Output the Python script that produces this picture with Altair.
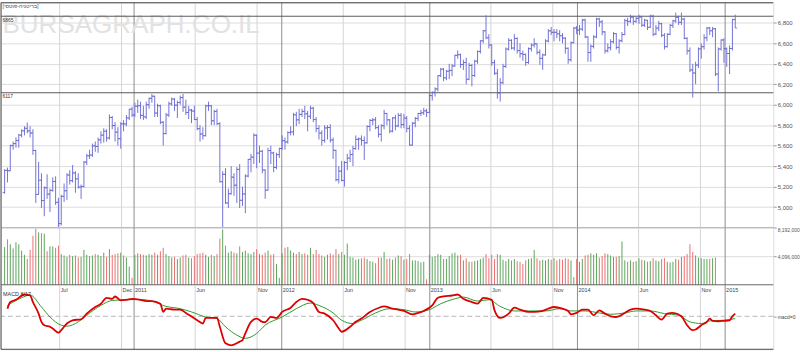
import altair as alt
import pandas as pd

TITLE = "[בריטניה-פוטסי]"
WATERMARK = "BURSAGRAPH.CO.IL"
MACD_LABEL = "MACD 8/17"
ZERO_LABEL = "macd=0"

FIRST_WEEK = "2010-02-15"
X_START = "2010-02-06"
X_END = "2015-04-30"

OPEN = [
    5142, 5358, 5355, 5600, 5620, 5650, 5703, 5745, 5770, 5744,
    5723, 5553, 5123, 5262, 5063, 5188, 5126, 5163, 5250, 5046,
    4838, 5105, 5159, 5313, 5258, 5333, 5275, 5195, 5201, 5439,
    5501, 5508, 5598, 5592, 5657, 5703, 5741, 5675, 5875, 5797,
    5732, 5668, 5813, 5812, 5871, 5957, 5900, 5985, 5990, 5896,
    5881, 6000, 6062, 6083, 5919, 5990, 5829, 5718, 5900, 6009,
    6055, 5996, 6022, 6070, 5976, 5925, 5948, 5938, 5855, 5766,
    5714, 5697, 5989, 5990, 5843, 5935, 5815, 5247, 5320, 5040,
    5130, 5292, 5214, 5368, 5066, 5128, 5303, 5466, 5488, 5702,
    5527, 5545, 5362, 5164, 5552, 5529, 5387, 5512, 5572, 5649,
    5636, 5728, 5734, 5901, 5852, 5905, 5935, 5911, 5887, 5966,
    5855, 5768, 5723, 5651, 5773, 5777, 5655, 5554, 5267, 5351,
    5260, 5435, 5478, 5513, 5571, 5662, 5666, 5651, 5627, 5787,
    5847, 5852, 5776, 5711, 5795, 5915, 5852, 5742, 5871, 5793,
    5896, 5806, 5869, 5769, 5605, 5820, 5866, 5914, 5921, 5940,
    5925, 6089, 6121, 6154, 6284, 6347, 6263, 6328, 6335, 6379,
    6483, 6489, 6393, 6412, 6249, 6384, 6286, 6426, 6521, 6625,
    6723, 6654, 6583, 6411, 6308, 6116, 6215, 6375, 6544, 6630,
    6554, 6647, 6529, 6499, 6492, 6413, 6548, 6584, 6596, 6512,
    6454, 6487, 6623, 6722, 6708, 6708, 6693, 6674, 6651, 6552,
    6440, 6606, 6750, 6730, 6740, 6829, 6663, 6510, 6571, 6663,
    6838, 6810, 6712, 6527, 6557, 6615, 6695, 6561, 6625, 6686,
    6822, 6814, 6856, 6815, 6844, 6858, 6778, 6826, 6757, 6866,
    6690, 6749, 6792, 6679, 6567, 6689, 6776, 6820, 6855, 6806,
    6837, 6649, 6527, 6340, 6310, 6388, 6546, 6567, 6654, 6750,
    6723, 6742, 6300, 6545, 6633, 6547, 6501, 6550, 6832,
]
HIGH = [
    5370, 5385, 5610, 5640, 5680, 5715, 5760, 5790, 5825, 5790,
    5760, 5560, 5440, 5330, 5200, 5320, 5180, 5290, 5300, 5090,
    5120, 5230, 5330, 5360, 5410, 5350, 5330, 5220, 5450, 5520,
    5560, 5620, 5640, 5680, 5740, 5770, 5760, 5905, 5890, 5830,
    5780, 5830, 5850, 5900, 5960, 5980, 6020, 6050, 6030, 5990,
    6030, 6070, 6105, 6090, 6010, 6000, 5840, 5920, 6030, 6070,
    6065, 6040, 6090, 6105, 6050, 5990, 5960, 5990, 5880, 5800,
    5780, 6000, 6030, 5995, 5950, 5960, 5830, 5350, 5380, 5180,
    5400, 5330, 5390, 5420, 5200, 5320, 5470, 5520, 5720, 5710,
    5600, 5560, 5370, 5580, 5600, 5540, 5530, 5580, 5700, 5680,
    5740, 5790, 5920, 5930, 5960, 5960, 5990, 5940, 5990, 5980,
    5880, 5800, 5750, 5800, 5800, 5810, 5680, 5560, 5400, 5450,
    5450, 5520, 5560, 5600, 5700, 5680, 5700, 5690, 5800, 5860,
    5870, 5880, 5800, 5810, 5950, 5920, 5860, 5880, 5900, 5920,
    5920, 5910, 5890, 5800, 5830, 5880, 5920, 5950, 5970, 5960,
    6110, 6130, 6170, 6290, 6360, 6360, 6340, 6400, 6400, 6490,
    6530, 6500, 6440, 6460, 6410, 6400, 6440, 6530, 6630, 6730,
    6875, 6690, 6590, 6440, 6350, 6260, 6400, 6560, 6650, 6640,
    6690, 6660, 6600, 6530, 6500, 6560, 6600, 6650, 6600, 6540,
    6500, 6640, 6740, 6760, 6740, 6740, 6730, 6700, 6660, 6560,
    6620, 6760, 6770, 6780, 6840, 6840, 6670, 6590, 6680, 6850,
    6850, 6830, 6720, 6600, 6640, 6710, 6700, 6640, 6710, 6840,
    6850, 6880, 6870, 6860, 6880, 6870, 6840, 6830, 6880, 6880,
    6780, 6820, 6800, 6700, 6700, 6790, 6830, 6900, 6870, 6900,
    6850, 6660, 6560, 6400, 6420, 6560, 6600, 6690, 6760, 6760,
    6760, 6750, 6560, 6640, 6650, 6560, 6580, 6840, 6880,
]
LOW = [
    5130, 5240, 5350, 5560, 5580, 5580, 5680, 5700, 5720, 5680,
    5510, 5040, 5120, 4990, 4910, 5080, 4950, 5150, 5020, 4790,
    4820, 5050, 5070, 5220, 5240, 5140, 5180, 5080, 5190, 5410,
    5470, 5490, 5540, 5530, 5620, 5630, 5640, 5660, 5760, 5640,
    5600, 5570, 5740, 5790, 5850, 5880, 5880, 5920, 5860, 5850,
    5860, 5960, 6020, 5880, 5880, 5810, 5600, 5710, 5880, 5990,
    5940, 5870, 6000, 5930, 5900, 5860, 5820, 5850, 5750, 5640,
    5660, 5690, 5940, 5800, 5800, 5800, 5240, 4790, 5030, 4990,
    5120, 5110, 5040, 4990, 5010, 4940, 5290, 5340, 5420, 5380,
    5430, 5330, 5080, 5160, 5420, 5340, 5370, 5480, 5560, 5560,
    5620, 5700, 5700, 5790, 5810, 5880, 5860, 5740, 5860, 5830,
    5730, 5660, 5600, 5630, 5660, 5630, 5470, 5250, 5230, 5250,
    5200, 5360, 5440, 5400, 5560, 5560, 5600, 5460, 5620, 5740,
    5800, 5760, 5680, 5640, 5760, 5800, 5720, 5730, 5750, 5780,
    5770, 5770, 5730, 5600, 5600, 5780, 5840, 5890, 5900, 5880,
    5920, 6040, 6080, 6130, 6270, 6230, 6240, 6250, 6280, 6370,
    6450, 6360, 6340, 6200, 6240, 6180, 6270, 6400, 6500, 6600,
    6640, 6550, 6380, 6290, 6060, 6030, 6200, 6360, 6530, 6540,
    6530, 6500, 6460, 6430, 6380, 6400, 6520, 6560, 6490, 6390,
    6340, 6480, 6610, 6680, 6620, 6650, 6620, 6600, 6500, 6400,
    6420, 6600, 6690, 6680, 6720, 6650, 6420, 6420, 6550, 6650,
    6760, 6680, 6500, 6510, 6530, 6600, 6540, 6500, 6610, 6680,
    6770, 6800, 6780, 6800, 6790, 6760, 6760, 6730, 6750, 6670,
    6680, 6720, 6660, 6540, 6560, 6680, 6750, 6800, 6780, 6780,
    6640, 6490, 6320, 6070, 6200, 6360, 6450, 6540, 6620, 6680,
    6660, 6280, 6130, 6530, 6410, 6370, 6300, 6530, 6750,
]
CLOSE = [
    5358, 5355, 5600, 5620, 5650, 5703, 5745, 5770, 5744, 5723,
    5553, 5123, 5262, 5063, 5188, 5126, 5163, 5250, 5046, 4838,
    5105, 5159, 5313, 5258, 5333, 5275, 5195, 5201, 5439, 5501,
    5508, 5598, 5592, 5657, 5703, 5741, 5675, 5875, 5797, 5732,
    5668, 5813, 5812, 5871, 5957, 5900, 5985, 5990, 5896, 5881,
    6000, 6062, 6083, 5919, 5990, 5829, 5718, 5900, 6009, 6055,
    5996, 6022, 6070, 5976, 5925, 5948, 5938, 5855, 5766, 5714,
    5697, 5989, 5990, 5843, 5935, 5815, 5247, 5320, 5040, 5130,
    5292, 5214, 5368, 5066, 5128, 5303, 5466, 5488, 5702, 5527,
    5545, 5362, 5164, 5552, 5529, 5387, 5512, 5572, 5649, 5636,
    5728, 5734, 5901, 5852, 5905, 5935, 5911, 5887, 5966, 5855,
    5768, 5723, 5651, 5773, 5777, 5655, 5554, 5267, 5351, 5260,
    5435, 5478, 5513, 5571, 5662, 5666, 5651, 5627, 5787, 5847,
    5852, 5776, 5711, 5795, 5915, 5852, 5742, 5871, 5793, 5896,
    5806, 5869, 5769, 5605, 5820, 5866, 5914, 5921, 5940, 5925,
    6089, 6121, 6154, 6284, 6347, 6263, 6328, 6335, 6379, 6483,
    6489, 6393, 6412, 6249, 6384, 6286, 6426, 6521, 6625, 6723,
    6654, 6583, 6411, 6308, 6116, 6215, 6375, 6544, 6630, 6554,
    6647, 6529, 6499, 6492, 6413, 6548, 6584, 6596, 6512, 6454,
    6487, 6623, 6722, 6708, 6708, 6693, 6674, 6651, 6552, 6440,
    6606, 6750, 6730, 6740, 6829, 6663, 6510, 6571, 6663, 6838,
    6810, 6712, 6527, 6557, 6615, 6695, 6561, 6625, 6686, 6822,
    6814, 6856, 6815, 6844, 6858, 6778, 6826, 6757, 6866, 6690,
    6749, 6792, 6679, 6567, 6689, 6776, 6820, 6855, 6806, 6837,
    6649, 6527, 6340, 6310, 6388, 6546, 6567, 6654, 6750, 6723,
    6742, 6300, 6545, 6633, 6547, 6501, 6550, 6832, 6749,
]
VOLUME_K = [
    5400, 6500, 5800, 5200, 6100, 5800, 4900, 4300, 3700, 5000,
    7000, 8000, 7500, 7400, 7300, 4800, 5500, 5500, 5300, 5600,
    4400, 4200, 4000, 4300, 4100, 4200, 3900, 4000, 5000, 4300,
    4100, 4200, 4400, 4300, 4100, 4600, 4000, 5100, 4300, 4400,
    4500, 4600, 4200, 3900, 2600, 1000, 4300, 4500, 4400, 4300,
    4200, 4400, 4300, 4600, 4300, 4800, 5300, 4400, 4100, 3900,
    4000, 3700, 3900, 4200, 4300, 3900, 3800, 4100, 4400, 4500,
    4600, 4300, 4000, 4300, 4100, 4400, 6600, 7900, 5600, 4600,
    4800, 4600, 4500, 5500, 4700, 4900, 4500, 4400, 4700, 5100,
    4400, 4300, 4600, 4900, 4300, 4400, 3000, 1000, 4500, 5300,
    5400, 4900, 4600, 4400, 4700, 4400, 4500, 4300, 5300, 4400,
    5000, 4400, 4200, 4000, 4300, 4500, 4300, 5100, 4400, 4700,
    4300, 5900, 4000, 3900, 3600, 3700, 3800, 3900, 3700, 3400,
    3300, 3100, 3900, 3900, 4700, 3700, 3800, 3600, 3900, 4200,
    4100, 3600, 3700, 4400, 3500, 3500, 3400, 3200, 3300, 800,
    4300, 4000, 4100, 4400, 4300, 3700, 3700, 4100, 4500, 4600,
    4200, 4300, 3500, 3800, 3300, 3300, 3400, 3500, 3700, 3900,
    4400, 3800, 4300, 3700, 4400, 4300, 3600, 3400, 3700, 3500,
    3700, 3400, 3300, 3000, 3500, 3700, 3800, 5000, 3800, 3500,
    3600, 3500, 3700, 3600, 3800, 3500, 3700, 3600, 3800, 3700,
    3500, 1100, 3700, 3300, 3700, 4200, 4300, 4500, 4300, 4500,
    3900, 4100, 4500, 4400, 4200, 4000, 4000, 4100, 6200, 3500,
    3300, 3500, 3300, 3400, 3800, 3600, 3500, 3300, 3400, 3800,
    3500, 3400, 3700, 3800, 3300, 3200, 3300, 3700, 3600, 4000,
    4100, 4400, 5800, 4700, 4200, 3900, 3800, 3700, 3700, 3700,
    3800, 3900,
]
MACD_WEEK = [
    1, 2, 4, 7, 9, 10, 12, 13, 14, 16, 17, 19, 20, 22, 24, 27, 29, 32, 34, 36,
    38, 39, 41, 43, 45, 48, 50, 52, 55, 56, 57, 60, 62, 64, 68, 70, 71, 75, 76, 78,
    80, 83, 84, 85, 87, 89, 91, 92, 94, 96, 98, 101, 103, 105, 107, 109, 111, 113, 116, 118,
    119, 122, 124, 126, 129, 132, 134, 137, 139, 141, 144, 146, 148, 151, 153, 155, 158, 160, 162, 165,
    167, 169, 172, 173, 175, 178, 180, 182, 185, 187, 190, 192, 194, 197, 199, 200, 202, 204, 206, 208,
    210, 212, 214, 216, 219, 221, 223, 226, 228, 230, 232, 234, 236, 239, 241, 243, 244, 246, 248, 249,
    250, 252, 254, 256, 257, 258,
]
MACD_VAL = [
    77, 144, 167, 220, 210, 144, 27, -56, -90, -106, -123, -166, -140, -73, -40, -30, 27, 94, 127, 187,
    177, 200, 160, 167, 177, 167, 154, 154, 127, 44, 77, 67, 67, 34, -40, -73, -17, -17, -106, -273,
    -293, -256, -240, -173, -56, -23, -56, -60, -6, -17, 44, 87, 144, 177, 167, 134, 44, 27, -40, -123,
    -156, -106, -56, -23, 44, 84, 100, 77, 67, 54, 20, 34, 54, 110, 187, 200, 210, 220, 177, 144,
    127, 187, 167, 60, -17, 27, 87, 67, 44, 44, 54, 77, 94, 77, 54, 20, 34, 67, 67, 10,
    60, 27, 0, -7, 34, 67, 77, 67, 54, 10, -33, 27, 34, 0, -90, -140, -133, -90, -56, -23,
    -46, -50, -46, -40, 0, 27,
]
SIGNAL_WEEK = [
    1, 6, 9, 13, 16, 20, 22, 26, 29, 34, 38, 43, 48, 52, 57, 62, 66, 71, 75, 78,
    82, 85, 89, 92, 98, 103, 108, 111, 116, 119, 123, 126, 131, 136, 141, 145, 150, 154, 159, 162,
    167, 171, 175, 180, 185, 191, 196, 200, 205, 210, 214, 219, 223, 228, 233, 238, 242, 246, 249, 254,
    258,
]
SIGNAL_VAL = [
    110, 187, 215, 94, -7, -90, -100, -56, 10, 110, 160, 167, 170, 154, 100, 77, 44, -7, -23, -106,
    -190, -223, -173, -90, -7, 77, 134, 110, 34, -40, -73, -40, 34, 77, 67, 44, 67, 127, 177, 194,
    154, 167, 100, 54, 54, 54, 77, 54, 54, 34, 20, 34, 54, 54, 27, 10, -56, -73, -46, -40,
    -23,
]
LEVELS = [6865, 6117]
PRICE_TICKS = [5000, 5200, 5400, 5600, 5800, 6000, 6200, 6400, 6600, 6800]
VOLUME_TICKS_K = [4096, 8192]
GRID_MONTHS = ["2010-07-01", "2010-12-01", "2011-06-01", "2011-11-01", "2012-06-01",
               "2012-11-01", "2013-06-01", "2013-11-01", "2014-06-01", "2014-11-01"]
GRID_YEARS = ["2011-01-01", "2012-01-01", "2013-01-01", "2014-01-01", "2015-01-01"]
MONTH_ABBR = ["Jan", "Feb", "Mar", "Apr", "May", "Jun",
              "Jul", "Aug", "Sep", "Oct", "Nov", "Dec"]

PRICE_DOMAIN = [4800, 6997]
VOLUME_DOMAIN = [0, 8192]
MACD_DOMAIN = [-333, 317]

W = 780
H_MAIN, H_VOL, H_MACD = 227, 58, 65
FONT = "Liberation Sans"
BAR = "#7272d8"
BAR_TICK = "#5252c0"
FRAME = "#4a4a4a"
MONTH_GRID = "#d4d4d4"
YEAR_GRID = "#8c8c8c"


def ts(s):
    return s + "T00:00:00"


def dt(s):
    y, m, d = (int(v) for v in s.split("-"))
    return alt.DateTime(year=y, month=m, date=d)


weeks = [ts(d.strftime("%Y-%m-%d"))
         for d in pd.date_range(FIRST_WEEK, periods=len(CLOSE), freq="7D")]

price_df = pd.DataFrame({"date": weeks, "open": OPEN, "high": HIGH,
                         "low": LOW, "close": CLOSE})
nv = len(VOLUME_K)
vol_df = pd.DataFrame({"date": weeks[:nv], "vol": VOLUME_K,
                       "up": [c >= o for o, c in zip(OPEN[:nv], CLOSE[:nv])]})
macd_df = pd.DataFrame({"date": [weeks[i] for i in MACD_WEEK], "v": MACD_VAL})
sig_df = pd.DataFrame({"date": [weeks[i] for i in SIGNAL_WEEK], "v": SIGNAL_VAL})
months_df = pd.DataFrame({"date": [ts(s) for s in GRID_MONTHS]})
years_df = pd.DataFrame({"date": [ts(s) for s in GRID_YEARS]})
levels_df = pd.DataFrame({"level": LEVELS, "label": [str(v) for v in LEVELS]})
tick_dates = GRID_MONTHS + GRID_YEARS
xlabels_df = pd.DataFrame({
    "date": [ts(s) for s in tick_dates],
    "label": [s[:4] if s[5:7] == "01" else MONTH_ABBR[int(s[5:7]) - 1] for s in tick_dates],
})

xscale = alt.Scale(domain=[dt(X_START), dt(X_END)], nice=False)

# ---------------- axes ----------------
yprice = alt.Scale(domain=PRICE_DOMAIN, nice=False, zero=False)
price_axis = alt.Axis(orient="right", values=PRICE_TICKS,
                      labelExpr="format(datum.value, ',')", grid=True,
                      gridColor="#dcdcdc", domain=False, tickSize=3, tickColor="#9a9a9a",
                      labelPadding=1, labelFontSize=6, labelColor="#555555",
                      labelFont=FONT, title=None)

yvol = alt.Scale(domain=VOLUME_DOMAIN, nice=False)
vol_axis = alt.Axis(orient="right", values=VOLUME_TICKS_K,
                    labelExpr="format(datum.value * 1000, ',')", grid=True,
                    gridColor="#dcdcdc", domain=False, tickSize=3, tickColor="#9a9a9a",
                    labelPadding=1, labelFontSize=5, labelColor="#555555", labelFont=FONT,
                    labelFlush=True, title=None)

ymacd = alt.Scale(domain=MACD_DOMAIN, nice=False, zero=False)
macd_axis = alt.Axis(orient="right", values=[0], labelExpr="'" + ZERO_LABEL + "'",
                     grid=False, domain=False, tickSize=3, tickColor="#9a9a9a",
                     labelPadding=1, labelFontSize=5, labelColor="#444444",
                     labelFont=FONT, title=None)


def X():
    return alt.X("date:T", scale=xscale, axis=None)


def vgrid():
    m = alt.Chart(months_df).mark_rule(color=MONTH_GRID, strokeWidth=1).encode(x=X())
    y = alt.Chart(years_df).mark_rule(color=YEAR_GRID, strokeWidth=1).encode(x=X())
    return [m, y]


def left_border():
    return alt.Chart(months_df.head(1)).mark_rule(color=FRAME, strokeWidth=1).encode(
        x=alt.XDatum(dt(X_START), type="temporal", scale=xscale, axis=None))


def hline(value, scale, axis, color=FRAME):
    return alt.Chart(levels_df.head(1)).mark_rule(color=color, strokeWidth=1).encode(
        y=alt.YDatum(value, type="quantitative", scale=scale, axis=axis))


# ---------------- main price panel ----------------
watermark = alt.Chart(pd.DataFrame({"t": [WATERMARK]})).mark_text(
    align="left", baseline="alphabetic", fontSize=26.3, font=FONT, color="#e2e2e2"
).encode(text="t:N", x=alt.value(1.5), y=alt.value(30.7))

title_txt = alt.Chart(pd.DataFrame({"t": [TITLE]})).mark_text(
    align="left", baseline="middle", fontSize=5.5, font=FONT, color="#4a4a78"
).encode(text="t:N", x=alt.value(1.5), y=alt.value(3.5))

level_lines = alt.Chart(levels_df).mark_rule(color="#5a5a5a", strokeWidth=1).encode(
    y=alt.Y("level:Q", scale=yprice, axis=price_axis))
level_txt = alt.Chart(levels_df).mark_text(
    align="left", baseline="middle", dy=3.5, fontSize=5, font=FONT, color="#333333"
).encode(x=alt.value(1.5), y=alt.Y("level:Q", scale=yprice, axis=price_axis),
         text="label:N")

hl = alt.Chart(price_df).mark_rule(color=BAR, strokeWidth=1).encode(
    x=X(), y=alt.Y("low:Q", scale=yprice, axis=price_axis), y2="high:Q")
op = alt.Chart(price_df).mark_tick(orient="horizontal", size=2, thickness=1,
                                   xOffset=-1, color=BAR_TICK).encode(
    x=X(), y=alt.Y("open:Q", scale=yprice, axis=price_axis))
cl = alt.Chart(price_df).mark_tick(orient="horizontal", size=2, thickness=1,
                                   xOffset=1, color=BAR_TICK).encode(
    x=X(), y=alt.Y("close:Q", scale=yprice, axis=price_axis))

main = alt.layer(
    *vgrid(), watermark, level_lines, level_txt, title_txt,
    hline(PRICE_DOMAIN[1], yprice, price_axis), hline(PRICE_DOMAIN[0], yprice, price_axis),
    left_border(), hl, op, cl,
).properties(width=W, height=H_MAIN)

# ---------------- volume panel ----------------
vbars = alt.Chart(vol_df).mark_rule(strokeWidth=1).encode(
    x=X(),
    y=alt.Y("vol:Q", scale=yvol, axis=vol_axis),
    y2=alt.datum(0),
    color=alt.condition("datum.up", alt.value("#5aa55a"), alt.value("#e86e6e")),
)
volume = alt.layer(
    *vgrid(), left_border(), vbars, hline(VOLUME_DOMAIN[0], yvol, vol_axis, "#3a3a3a"),
).properties(width=W, height=H_VOL)

# ---------------- MACD panel (with the date label row on top) ----------------
xlabels = alt.Chart(xlabels_df).mark_text(
    align="left", baseline="middle", dx=1, fontSize=5.5, font=FONT, color="#444444"
).encode(x=X(), y=alt.value(5), text="label:N")
zero_line = alt.Chart(pd.DataFrame({"v": [0]})).mark_rule(
    color="#b8b8b8", strokeDash=[5, 3], strokeWidth=1).encode(
    y=alt.Y("v:Q", scale=ymacd, axis=macd_axis))
sig_line = alt.Chart(sig_df).mark_line(color="#2f9a2f", strokeWidth=1,
                                       interpolate="monotone").encode(
    x=X(), y=alt.Y("v:Q", scale=ymacd, axis=macd_axis))
macd_line = alt.Chart(macd_df).mark_line(color="#dd0000", strokeWidth=1.8,
                                         interpolate="monotone").encode(
    x=X(), y=alt.Y("v:Q", scale=ymacd, axis=macd_axis))
macd_txt = alt.Chart(pd.DataFrame({"t": [MACD_LABEL]})).mark_text(
    align="left", baseline="middle", fontSize=5.5, font=FONT, color="#333333"
).encode(text="t:N", x=alt.value(2), y=alt.value(9.5))

macd = alt.layer(
    *vgrid(), xlabels, zero_line, hline(MACD_DOMAIN[0], ymacd, macd_axis), left_border(),
    sig_line, macd_line, macd_txt,
).properties(width=W, height=H_MACD)

chart = alt.vconcat(main, volume, macd, spacing=0, bounds="flush").properties(
    padding={"left": 0, "top": 0, "right": 0, "bottom": 0},
    background="white",
).configure_view(stroke=None).configure(font=FONT)

chart.save("out.html", embed_options={"renderer": "svg", "actions": False})
